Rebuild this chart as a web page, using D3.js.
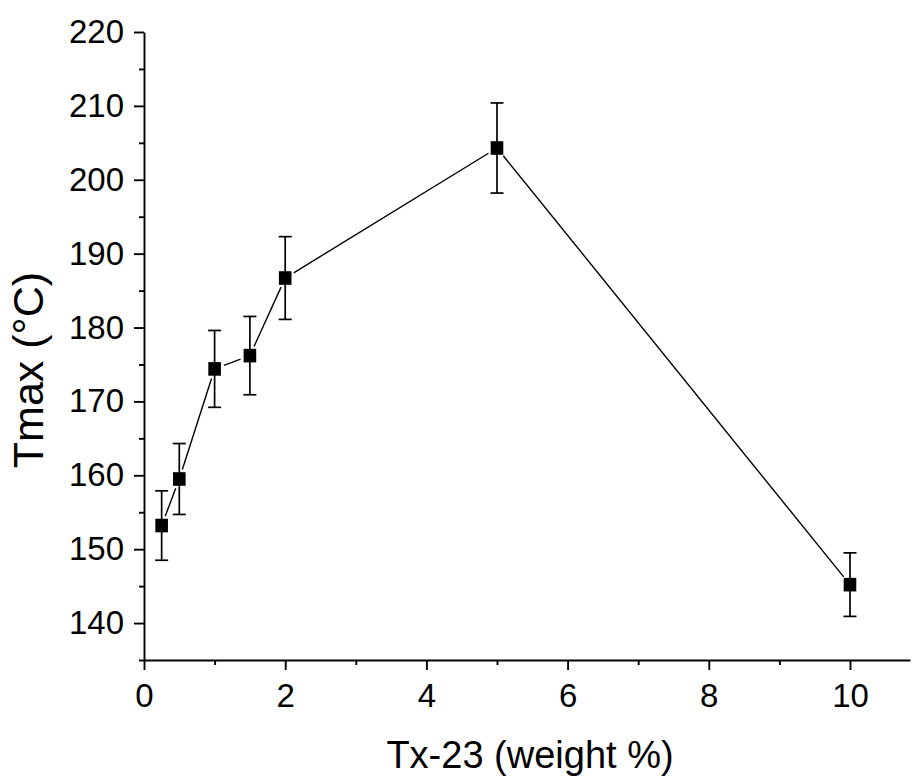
<!DOCTYPE html>
<html>
<head>
<meta charset="utf-8">
<script src="https://cdn.jsdelivr.net/npm/d3@7"></script>
<style>
  body { margin: 0; background: #fff; }
  svg text { font-family: "Liberation Sans", Arial, sans-serif; fill: #000; }
</style>
</head>
<body>
<div id="chart"></div>
<script>
// data
const loading = [0.25, 0.5, 1, 1.5, 2, 5, 10];      // Tx-23 (weight %)
const tmax = [153.2, 159.5, 174.4, 176.2, 186.7, 204.3, 145.2];  // °C
const tmaxErr = [4.7, 4.8, 5.2, 5.3, 5.6, 6.1, 4.3];
const xMajor = [0, 2, 4, 6, 8, 10];
const xMinor = [1, 3, 5, 7, 9];
const yMajor = [140, 150, 160, 170, 180, 190, 200, 210, 220];
const yMinor = [135, 145, 155, 165, 175, 185, 195, 205, 215];

const width = 912, height = 778;
const plot = { left: 144, right: 910, top: 32, bottom: 660 };

const x = d3.scaleLinear().domain([0, 10.85]).range([plot.left, plot.right]);
const y = d3.scaleLinear().domain([135, 220]).range([plot.bottom, plot.top]);

const svg = d3.select('#chart').append('svg')
    .attr('width', width).attr('height', height);

// minor ticks first, major ticks + labels on top
svg.append('g').attr('transform', 'translate(0,' + plot.bottom + ')')
    .call(d3.axisBottom(x).tickValues(xMinor).tickSize(5).tickSizeOuter(0).tickFormat(''))
    .call(g => g.select('.domain').remove());
svg.append('g').attr('transform', 'translate(' + plot.left + ',0)')
    .call(d3.axisLeft(y).tickValues(yMinor).tickSize(5).tickSizeOuter(0).tickFormat(''))
    .call(g => g.select('.domain').remove());

svg.append('g').attr('transform', 'translate(0,' + plot.bottom + ')')
    .call(d3.axisBottom(x).tickValues(xMajor).tickSize(10).tickSizeOuter(0).tickPadding(14).tickFormat(d3.format('d')));
svg.append('g').attr('transform', 'translate(' + plot.left + ',0)')
    .call(d3.axisLeft(y).tickValues(yMajor).tickSize(10).tickSizeOuter(0).tickPadding(10).tickFormat(d3.format('d')));

svg.selectAll('.tick line, .domain').attr('stroke', '#000').attr('stroke-width', 1.9);
svg.selectAll('.tick text').attr('font-size', 33).attr('font-family', '"Liberation Sans", Arial, sans-serif').attr('fill', '#000');

// axis titles
svg.append('text')
    .attr('x', 530).attr('y', 768)
    .attr('text-anchor', 'middle')
    .attr('font-size', 38)
    .text('Tx-23 (weight %)');

svg.append('text')
    .attr('transform', 'translate(43,370) rotate(-90)')
    .attr('text-anchor', 'middle')
    .attr('font-size', 43)
    .text('Tmax (°C)');

const pts = loading.map((d, i) => ({ x: d, y: tmax[i], e: tmaxErr[i] }));

// connecting segments, stopped short of the markers
const gap = 10;
const segs = pts.slice(1).map((p, i) => {
    const a = pts[i];
    const x1 = x(a.x), y1 = y(a.y), x2 = x(p.x), y2 = y(p.y);
    const len = Math.hypot(x2 - x1, y2 - y1);
    const ux = (x2 - x1) / len, uy = (y2 - y1) / len;
    return [x1 + ux * gap, y1 + uy * gap, x2 - ux * gap, y2 - uy * gap];
});
svg.append('g').selectAll('line').data(segs).join('line')
    .attr('x1', d => d[0]).attr('y1', d => d[1])
    .attr('x2', d => d[2]).attr('y2', d => d[3])
    .attr('stroke', '#000').attr('stroke-width', 1.4);

// error bars
const eb = svg.append('g').attr('stroke', '#000').attr('stroke-width', 1.7);
eb.selectAll('.stem').data(pts).join('line').attr('class', 'stem')
    .attr('x1', d => x(d.x)).attr('x2', d => x(d.x))
    .attr('y1', d => y(d.y - d.e)).attr('y2', d => y(d.y + d.e));
eb.selectAll('.capTop').data(pts).join('line').attr('class', 'capTop')
    .attr('x1', d => x(d.x) - 6.5).attr('x2', d => x(d.x) + 6.5)
    .attr('y1', d => y(d.y + d.e)).attr('y2', d => y(d.y + d.e));
eb.selectAll('.capBot').data(pts).join('line').attr('class', 'capBot')
    .attr('x1', d => x(d.x) - 6.5).attr('x2', d => x(d.x) + 6.5)
    .attr('y1', d => y(d.y - d.e)).attr('y2', d => y(d.y - d.e));

// square markers
svg.append('g').selectAll('rect').data(pts).join('rect')
    .attr('x', d => x(d.x) - 6.3).attr('y', d => y(d.y) - 6.8)
    .attr('width', 12.6).attr('height', 13.6)
    .attr('fill', '#000');
</script>
</body>
</html>
